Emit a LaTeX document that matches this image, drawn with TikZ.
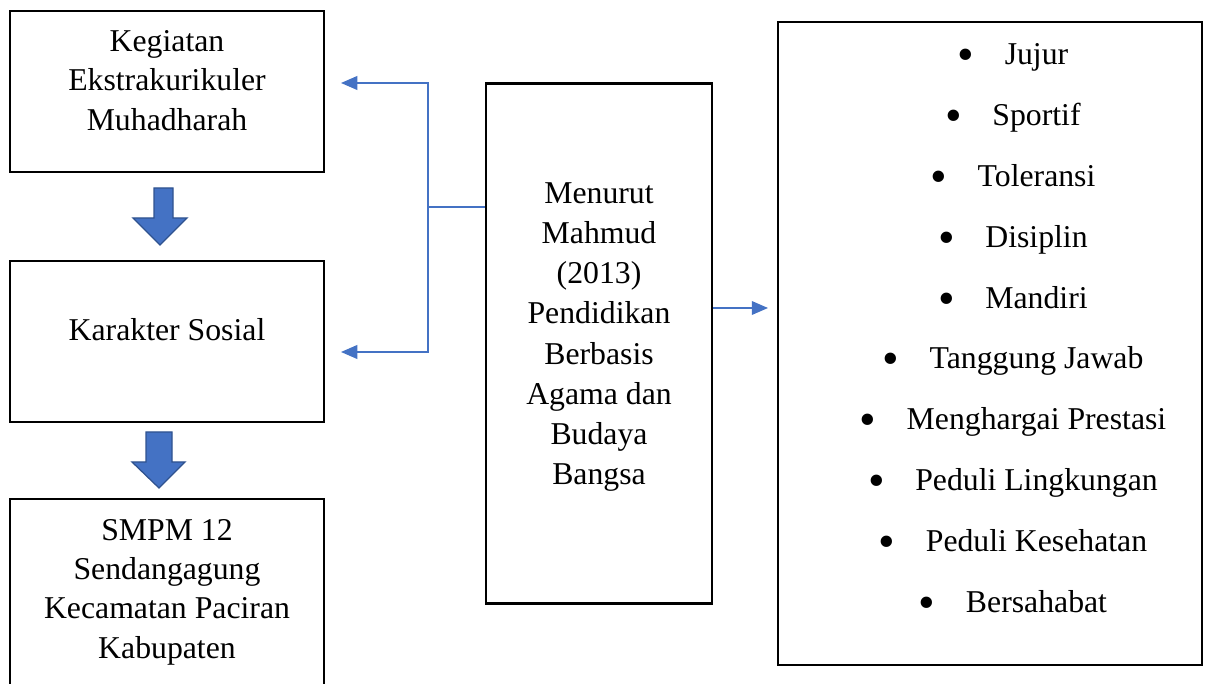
\documentclass[tikz,border=0pt]{standalone}
\usepackage{fontspec}
\setmainfont{Liberation Serif}
\usetikzlibrary{arrows.meta}
\definecolor{wordblue}{HTML}{4472C4}
\definecolor{wordedge}{HTML}{2F528F}
\tikzset{
  box/.style={draw, line width=1pt, inner sep=0pt},
  boxtext/.style={align=center, inner sep=0pt, font=\fontsize{12.7}{15.8}\selectfont},
  item/.style={anchor=base, inner sep=0pt, font=\fontsize{12.7}{15.8}\selectfont},
  conn/.style={wordblue, line width=0.55pt},
  blockarrow/.style={fill=wordblue, draw=wordedge, line width=0.5pt}
}
\newcommand{\bul}{\makebox[18.8pt][l]{\raisebox{-2.4pt}{\fontsize{19}{19}\selectfont\textbullet}}}
\begin{document}
\begin{tikzpicture}[x=0.4pt, y=-0.4pt]
    \useasboundingbox (0,0) rectangle (1211,684);
    \clip (0,0) rectangle (1211,684);

    % Left column boxes
    \node[box, minimum width=314*0.4pt, minimum height=161*0.4pt] (b1) at (167,91.5) {};
    \node[boxtext] (t1) at (167,80.5) {Kegiatan\\Ekstrakurikuler\\Muhadharah};

    \node[box, minimum width=314*0.4pt, minimum height=161*0.4pt] (b2) at (167,341.5) {};
    \node[boxtext] (t2) at (167,330) {Karakter Sosial};

    \node[box, minimum width=314*0.4pt, minimum height=260*0.4pt] (b3) at (167,629) {};
    \node[boxtext, font=\fontsize{12.7}{15.72}\selectfont] (t3) at (167,592) {SMPM 12\\Sendangagung\\Kecamatan Paciran\\Kabupaten};

    % Block arrows between the left boxes
    \filldraw[blockarrow] (154,188) -- (173,188) -- (173,218) -- (187,218) -- (160,245)
        -- (133,218) -- (154,218) -- cycle;
    \filldraw[blockarrow] (146,432) -- (172,432) -- (172,462) -- (185,462) -- (159,488)
        -- (132,462) -- (146,462) -- cycle;

    % Middle box
    \node[box, minimum width=226*0.4pt, minimum height=520*0.4pt] (mid) at (599,343.5) {};
    \node[boxtext, font=\fontsize{12.7}{16.1}\selectfont] (tm) at (599,337)
        {Menurut\\Mahmud\\(2013)\\Pendidikan\\Berbasis\\Agama dan\\Budaya\\Bangsa};

    % Right box with the list
    \node[box, minimum width=424*0.4pt, minimum height=643*0.4pt] (rb) at (990,343.5) {};
    \node[item] (i1) at (1013,65) {\bul Jujur};
    \node[item] (i2) at (1013,125.8) {\bul Sportif};
    \node[item] (i3) at (1013,186.6) {\bul Toleransi};
    \node[item] (i4) at (1013,247.4) {\bul Disiplin};
    \node[item] (i5) at (1013,308.2) {\bul Mandiri};
    \node[item] (i6) at (1013,369) {\bul Tanggung Jawab};
    \node[item] (i7) at (1013,429.8) {\bul Menghargai Prestasi};
    \node[item] (i8) at (1013,490.6) {\bul Peduli Lingkungan};
    \node[item] (i9) at (1013,551.4) {\bul Peduli Kesehatan};
    \node[item] (i10) at (1013,612.2) {\bul Bersahabat};

    % Connectors
    \coordinate (j) at (428,207);
    \coordinate (a1) at (341,83);
    \coordinate (a2) at (341,352);
    \coordinate (a3) at (768,308);
    \draw[conn] (mid.west |- j) -- (j);
    \draw[conn, -{Triangle[length=6.5pt, width=5.5pt]}] (j) |- (a1);
    \draw[conn, -{Triangle[length=6.5pt, width=5.5pt]}] (j) |- (a2);
    \draw[conn, -{Triangle[length=6.5pt, width=5.5pt]}] (a3 -| mid.east) -- (a3);
\end{tikzpicture}
\end{document}
